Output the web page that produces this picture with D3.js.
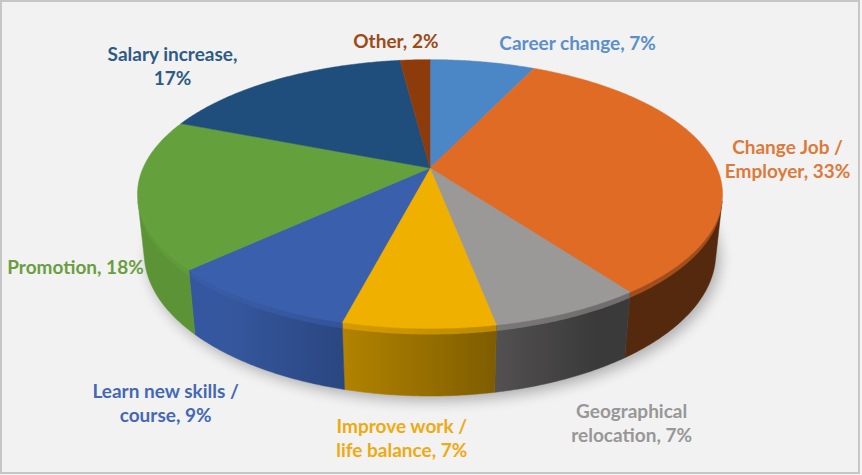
<!DOCTYPE html>
<html>
<head>
<meta charset="utf-8">
<script src="https://cdn.jsdelivr.net/npm/d3@7"></script>
<style>
  html, body { margin: 0; padding: 0; background: #f4f4f4; }
  svg { display: block; }
  text { font-family: Lato, "Open Sans", sans-serif; font-weight: 700; }
</style>
</head>
<body>
<svg id="chart" width="862" height="475"></svg>
<script>
// ---------------- data ----------------
const categories = [
  "Career change", "Change Job / Employer", "Geographical relocation",
  "Improve work / life balance", "Learn new skills / course",
  "Promotion", "Salary increase", "Other"
];
const values = [7, 33, 7, 7, 9, 18, 17, 2];
const labelLines = [
  ["Career change, 7%"],
  ["Change Job /", "Employer, 33%"],
  ["Geographical", "relocation, 7%"],
  ["Improve work /", "life balance, 7%"],
  ["Learn new skills /", "course, 9%"],
  ["Promotion, 18%"],
  ["Salary increase,", "17%"],
  ["Other, 2%"]
];

// ---------------- styles / layout ----------------
const topColors   = ["#4b87c6", "#e06b25", "#9b9898", "#f0b000", "#3a5fad", "#64a03b", "#1f4e7c", "#8e3b0b"];
const labelColors = ["#5b8fca", "#dd7a3a", "#979797", "#eeaa10", "#4468b4", "#6a9e40", "#2e5a86", "#9c4a16"];
// label offsets (px) from the projected rim mid-point of each slice
const labelOffsets = [[95, -20], [77, 2], [63, 110], [-17, 109], [-89, 100], [-62, 73], [-105, -14], [-19, -20]];

const W = 862, H = 475;
const cx = 430, cy = 168;
const alpha = 26.8 * Math.PI / 180, D = 4.6, S = 1320, HT = 0.2326;
const sa = Math.sin(alpha), ca = Math.cos(alpha);

function project(phi, r, z) {
  const X = r * Math.sin(phi), Y = -r * Math.cos(phi);
  const depth = D - Y * ca - z * sa;
  return [cx + S * X / depth, cy + S * (Y * sa - z * ca) / depth];
}

const svg = d3.select("#chart");
const defs = svg.append("defs");
const blur = defs.append("filter").attr("id", "shadow")
  .attr("x", "-20%").attr("y", "-20%").attr("width", "140%").attr("height", "140%");
blur.append("feGaussianBlur").attr("stdDeviation", 7);

// background & frame
svg.append("rect").attr("x", 0).attr("y", 0).attr("width", W).attr("height", H).attr("fill", "#f4f4f4");
svg.append("rect").attr("x", 1).attr("y", 1).attr("width", 858).attr("height", 472)
  .attr("fill", "#f2f2f2").attr("stroke", "#c6c6c6").attr("stroke-width", 2);

const pie = d3.pie().sort(null).value(d => d);
const arcs = pie(values);

const line = d3.line();
const step = Math.PI / 360;

function rimPoints(a0, a1, z) {
  const pts = [];
  const n = Math.max(2, Math.ceil((a1 - a0) / step));
  for (let i = 0; i <= n; i++) pts.push(project(a0 + (a1 - a0) * i / n, 1, z));
  return pts;
}

// shadow
const g = svg.append("g");
const shadowPts = rimPoints(0, 2 * Math.PI, -HT).map(p => [p[0] + 4, p[1] + 5]);
g.append("path").attr("d", line(shadowPts) + "Z").attr("fill", "#000").attr("opacity", 0.28)
  .attr("filter", "url(#shadow)");

// side faces
const phiMin = Math.acos(-1 / (D * ca)), phiMax = 2 * Math.PI - phiMin;
function shadeFactor(phi) {
  return Math.max(0.38, Math.min(0.92, 0.62 - 0.5 * Math.sin(phi)));
}
function shade(color, phi, lift) {
  const b = Math.min(1, shadeFactor(phi) + (lift || 0));
  const c = d3.rgb(color);
  return d3.rgb(c.r * b, c.g * b, c.b * b);
}
const sides = g.append("g");
arcs.forEach((a, i) => {
  const s0 = Math.max(a.startAngle, phiMin), s1 = Math.min(a.endAngle, phiMax);
  if (s0 >= s1) return;
  const x0 = project(s0, 1, 0)[0], x1 = project(s1, 1, 0)[0];
  ["main", "hi"].forEach(kind => {
    const grad = defs.append("linearGradient").attr("id", `g-${kind}-${i}`)
      .attr("gradientUnits", "userSpaceOnUse")
      .attr("x1", x0).attr("y1", 0).attr("x2", x1).attr("y2", 0);
    const N = 12;
    for (let k = 0; k <= N; k++) {
      const ph = s0 + (s1 - s0) * k / N;
      const xx = project(ph, 1, 0)[0];
      let col = shade(topColors[i], ph, 0);
      if (kind === "hi") col = d3.interpolateRgb(col, topColors[i])(0.55);
      grad.append("stop").attr("offset", Math.abs(x1 - x0) < 1e-6 ? 0 : (xx - x0) / (x1 - x0)).attr("stop-color", col);
    }
  });
  const body = rimPoints(s0, s1, 0).concat(rimPoints(s0, s1, -HT).reverse());
  sides.append("path").attr("d", line(body) + "Z").attr("fill", `url(#g-main-${i})`)
    .attr("stroke", `url(#g-main-${i})`).attr("stroke-width", 0.5);
  const band = rimPoints(s0, s1, 0).concat(rimPoints(s0, s1, -0.02).reverse());
  sides.append("path").attr("d", line(band) + "Z").attr("fill", `url(#g-hi-${i})`);
});

// top faces
const tops = g.append("g");
arcs.forEach((a, i) => {
  const pts = [[cx, cy]].concat(rimPoints(a.startAngle, a.endAngle, 0));
  tops.append("path").attr("d", line(pts) + "Z").attr("fill", topColors[i])
    .attr("stroke", topColors[i]).attr("stroke-width", 0.5).attr("stroke-linejoin", "round");
});

// labels
const labels = svg.append("g");
arcs.forEach((a, i) => {
  const mid = (a.startAngle + a.endAngle) / 2;
  const p = project(mid, 1, 0);
  const x = p[0] + labelOffsets[i][0], y = p[1] + labelOffsets[i][1];
  const lines = labelLines[i];
  const lh = 24;
  const t = labels.append("text").attr("x", x).attr("y", y - (lines.length - 1) * lh / 2)
    .attr("text-anchor", "middle").attr("dominant-baseline", "central")
    .attr("font-size", 19).attr("fill", labelColors[i]);
  lines.forEach((ln, j) => {
    t.append("tspan").attr("x", x).attr("dy", j === 0 ? 0 : lh).text(ln);
  });
});
</script>
</body>
</html>
